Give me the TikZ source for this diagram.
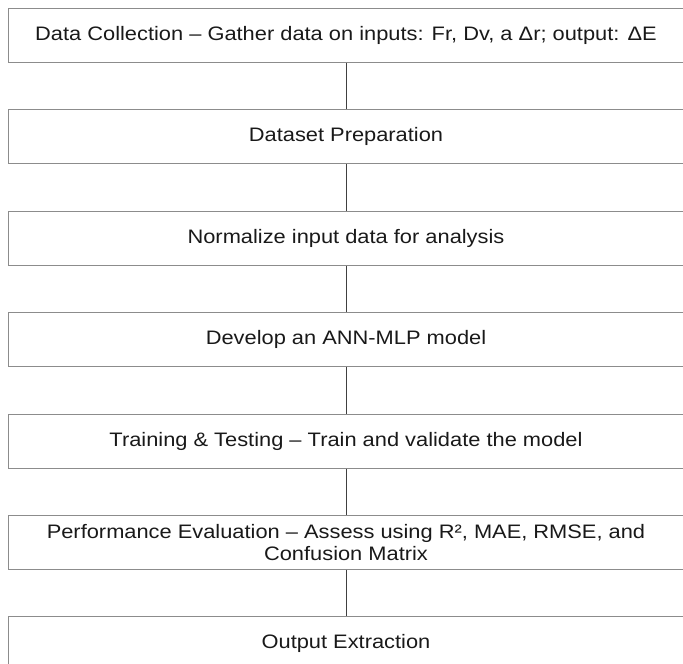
\documentclass[tikz,border=0pt]{standalone}
\usepackage{fontspec}
\setmainfont{Liberation Sans}[FakeStretch=1.12]
\usetikzlibrary{positioning}

\begin{document}
\begin{tikzpicture}[
x=1pt, y=1pt,
node distance=46.5pt,
stepbox/.style={rectangle, draw=black!45, line width=0.9pt, minimum width=676pt, minimum height=54pt, inner sep=0pt, align=center, font=\fontsize{19.5}{21.5}\selectfont, text=black!90},
link/.style={draw=black!75, line width=0.9pt},
]
\useasboundingbox (0,0) rectangle (683,-664);
%Nodes
\node[stepbox]  (collect)  at (346,-35.5)          {Data Collection – Gather data on inputs: Fr, Dv, a Δr; output: ΔE};
\node[stepbox]  (prep)     [below=of collect]      {Dataset Preparation};
\node[stepbox]  (norm)     [below=of prep]         {Normalize input data for analysis};
\node[stepbox]  (model)    [below=of norm]         {Develop an ANN-MLP model};
\node[stepbox]  (train)    [below=of model]        {Training \& Testing – Train and validate the model};
\node[stepbox]  (eval)     [below=of train]        {Performance Evaluation – Assess using R², MAE, RMSE, and\\Confusion Matrix};
\node[stepbox]  (extract)  [below=of eval]         {Output Extraction};

%Lines
\draw[link] (collect.south) -- (prep.north);
\draw[link] (prep.south) -- (norm.north);
\draw[link] (norm.south) -- (model.north);
\draw[link] (model.south) -- (train.north);
\draw[link] (train.south) -- (eval.north);
\draw[link] (eval.south) -- (extract.north);
\end{tikzpicture}
\end{document}
